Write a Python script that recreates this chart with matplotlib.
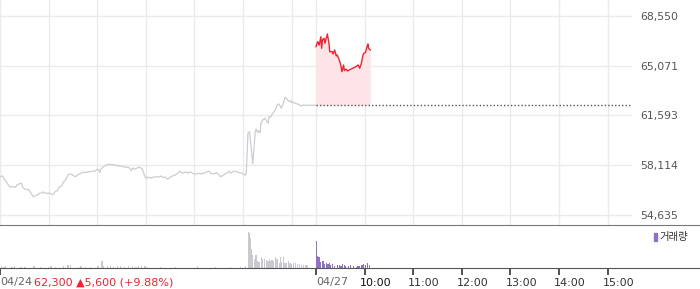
import matplotlib
matplotlib.use("Agg")
import matplotlib.pyplot as plt
from matplotlib.patches import Rectangle

# x axis: minutes since 04/24 09:00, two sessions of 390 minutes placed side by side
SESSION = 390
X_MAX = 780

# previous session (04/24) price line
prev_min = [0, 3, 6, 9, 11, 13, 16, 19, 21, 23, 26, 27, 29, 31, 33, 35, 37, 39, 41, 44,
            46, 49, 51, 53, 56, 58, 61, 63, 65, 67, 68, 71, 73, 76, 78, 80, 82, 84, 86, 89,
            91, 94, 95, 98, 100, 103, 105, 108, 111, 114, 116, 118, 120, 122, 123, 125, 127, 131, 134, 137,
            140, 143, 146, 149, 152, 155, 158, 160, 162, 164, 166, 169, 171, 174, 176, 178, 180, 183, 186, 189,
            193, 196, 198, 201, 204, 207, 210, 213, 216, 220, 222, 225, 227, 230, 232, 235, 239, 242, 245, 248,
            252, 255, 258, 260, 263, 267, 270, 272, 276, 279, 281, 283, 285, 288, 290, 293, 295, 298, 300, 303,
            304, 306, 308, 309, 311, 312, 313, 315, 316, 318, 319, 321, 322, 324, 326, 327, 329, 331, 332, 334,
            336, 337, 339, 341, 342, 344, 346, 347, 349, 350, 352, 354, 355, 357, 359, 360, 362, 364, 367, 369,
            372, 374, 377, 380, 383, 387, 390]
prev_price = [57300, 57350, 57070, 56840, 56650, 56560, 56600, 56560, 56720, 56770, 56840, 56720, 56490, 56420, 56370, 56420, 56250, 56090, 55900, 55970,
              56020, 56140, 56140, 56230, 56140, 56140, 56140, 56090, 56040, 56140, 56250, 56320, 56560, 56650, 56880, 57020, 57190, 57420, 57490, 57440,
              57350, 57300, 57400, 57490, 57540, 57610, 57580, 57630, 57650, 57680, 57680, 57720, 57820, 57770, 57580, 57860, 57960, 58120, 58170, 58140,
              58140, 58100, 58050, 58050, 58000, 57960, 57960, 57890, 57720, 57910, 57820, 57890, 57960, 57910, 57770, 57420, 57190, 57260, 57210, 57260,
              57300, 57260, 57350, 57260, 57260, 57120, 57260, 57350, 57400, 57580, 57680, 57540, 57580, 57630, 57540, 57630, 57490, 57490, 57540, 57490,
              57540, 57630, 57680, 57540, 57490, 57580, 57440, 57300, 57400, 57540, 57580, 57680, 57540, 57680, 57680, 57630, 57580, 57540, 57490, 57400,
              57540, 60330, 60450, 59870, 58700, 58190, 58940, 60450, 60620, 60380, 60520, 60380, 61040, 61270, 61320, 61390, 61220, 61040, 61500, 61460,
              61690, 61740, 61920, 62090, 62320, 62390, 62250, 62090, 62320, 62550, 62860, 62760, 62670, 62550, 62620, 62480, 62530, 62440, 62390, 62340,
              62250, 62320, 62300, 62300, 62300, 62300, 62300]

# current session (04/27) price line
today_min = [390, 392, 393, 394, 396, 397, 398, 400, 401, 403, 404, 406, 407, 410, 411, 413, 415, 416, 418, 420,
             421, 422, 424, 425, 427, 429, 431, 434, 437, 439, 442, 444, 446, 448, 449, 451, 453, 454, 455, 457]
today_price = [66400, 66750, 66680, 66520, 67100, 66290, 66870, 66990, 66640, 67060, 67290, 66640, 66050, 66050, 65890, 66170, 65750, 65820, 65590, 65240,
               65000, 64650, 65120, 64720, 64840, 64700, 64770, 64860, 64930, 65000, 65120, 64890, 65240, 65820, 65940, 65980, 66400, 66590, 66290, 66170]

prev_close = 62300
y_ticks = [54635, 58114, 61593, 65071, 68550]
y_tick_labels = ["54,635", "58,114", "61,593", "65,071", "68,550"]

# volume bars (shares)
prev_vol_min = [1, 4, 6, 14, 17, 25, 30, 41, 49, 59, 62, 68, 78, 83, 86, 96, 99, 105, 111, 120,
                125, 127, 132, 136, 139, 144, 148, 153, 158, 163, 167, 170, 174, 178, 181, 197, 216, 243, 265, 284,
                296, 302, 306, 307, 308, 309, 310, 311, 313, 315, 316, 317, 319, 322, 323, 326, 328, 330, 332, 333,
                335, 337, 339, 341, 342, 344, 345, 347, 349, 351, 353, 355, 357, 359, 361, 364, 366, 369, 371, 374,
                376, 378]
prev_vol = [2000, 1500, 2000, 1500, 2000, 1500, 1500, 2000, 1500, 1500, 2000, 1500, 2000, 3000, 3000, 1500, 2000, 1500, 1500, 2000,
            7000, 2000, 2000, 2000, 1500, 2000, 2000, 1500, 2000, 2000, 1500, 2000, 2000, 2000, 1500, 1500, 1500, 2000, 1500, 1500,
            1500, 2000, 36000, 35000, 30000, 19000, 9000, 13000, 9000, 13000, 9000, 7000, 6000, 11000, 9000, 9000, 8000, 7000, 9000, 7000,
            8000, 7000, 11000, 9000, 6000, 5000, 11000, 6000, 11000, 5000, 5000, 7000, 5000, 4000, 5000, 5000, 4000, 4000, 3500, 3500,
            3000, 3000]
today_vol_min = [390, 391, 392, 393, 395, 397, 398, 400, 402, 404, 406, 407, 410, 412, 416, 418, 420, 422, 424, 426,
                 429, 432, 436, 439, 441, 443, 446, 448, 450, 453, 455]
today_vol = [26700, 12000, 9400, 11000, 6000, 4700, 6700, 4000, 5400, 4000, 4700, 3400, 4000, 2000, 2700, 3400, 2000, 4000, 2700, 2000,
             2000, 2700, 2000, 1400, 2000, 2000, 2700, 4000, 3400, 4700, 2700]

hour_ticks = [450, 510, 570, 630, 690, 750]
hour_labels = ["10:00", "11:00", "12:00", "13:00", "14:00", "15:00"]
change_text = "62,300 \u25b25,600 (+9.88%)"

W, H = 700, 289
fig = plt.figure(figsize=(W / 100, H / 100), dpi=100)

main_w = 632
ax = fig.add_axes([0, (H - 225) / H, main_w / W, 225 / H])
ax.set_xlim(0, X_MAX)
ax.set_ylim(53912, 69671)

grid_x = [0, 60, 120, 180, 240, 300, 360, 390, 450, 510, 570, 630, 690, 750]
for gx in grid_x:
    ax.axvline(gx, color="#ebebeb", lw=1, zorder=0)
for gy in y_ticks:
    ax.axhline(gy, color="#ebebeb", lw=1, zorder=0)

ax.plot(prev_min, prev_price, color="#cbcdd2", lw=0.9, zorder=2)
ax.fill_between(today_min, today_price, prev_close, color="#fde4e6", lw=0, zorder=1)
ax.plot(today_min, today_price, color="#f3222f", lw=1, zorder=3)
ax.plot([SESSION, X_MAX], [prev_close, prev_close], color="#555555", lw=1,
        linestyle=(0, (1, 1.5)), zorder=3)

for s in ax.spines.values():
    s.set_visible(False)
ax.set_xticks([])
ax.yaxis.tick_right()
ax.set_yticks(y_ticks)
ax.set_yticklabels(y_tick_labels)
ax.tick_params(axis="y", length=0, pad=6, labelsize=7.8, labelcolor="#555555")

# volume panel spans the full width, same minute scale as the price panel
vol = fig.add_axes([0, (H - 268) / H, 1, 43 / H])
vol.set_xlim(0, X_MAX * W / main_w)
vol.set_ylim(0, 43000)
vol.bar(prev_vol_min, prev_vol, width=1.6, color="#c8cacf", lw=0, align="edge")
vol.bar(today_vol_min, today_vol, width=1.5, color="#8f72c2", lw=0, align="edge")
for side in ["left", "right"]:
    vol.spines[side].set_visible(False)
vol.spines["top"].set_color("#777777")
vol.spines["bottom"].set_color("#555555")
vol.set_yticks([])
vol.set_xticks([0, SESSION] + hour_ticks)
vol.set_xticklabels([])
vol.tick_params(axis="x", length=5, width=1.2, color="#333333", direction="out")

label_y = (H - 282.5) / H
fig.text(0, label_y, "04/24", fontsize=8, color="#666666", va="center", ha="left")
fig.text(34 / W, label_y, change_text, fontsize=8, color="#f3222f", va="center", ha="left")
fig.text(316 / W, label_y, "04/27", fontsize=8, color="#666666", va="center", ha="left")
for t, lab in zip(hour_ticks, hour_labels):
    px = t * main_w / X_MAX
    fig.text((px - 5) / W, label_y, lab, fontsize=8,
             color="#111111" if lab == "10:00" else "#333333", va="center", ha="left")

fig.patches.append(Rectangle((654 / W, (H - 241) / H), 3 / W, 8 / H,
                             transform=fig.transFigure, color="#8f72c2"))
fig.text(659 / W, (H - 237) / H, "거래량", fontsize=7.5, color="#333333", va="center",
         ha="left", family=["Noto Sans CJK KR", "DejaVu Sans"])

fig.savefig("out.png", dpi=100)
